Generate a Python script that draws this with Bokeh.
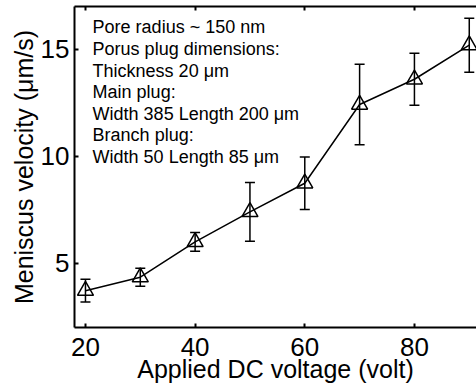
from bokeh.plotting import figure
from bokeh.models import Range1d, LinearAxis, FixedTicker, Whisker, TeeHead, ColumnDataSource, Label
from bokeh.embed import file_html
from bokeh.resources import INLINE

# Data
voltage = [20, 30, 40, 50, 60, 70, 80, 90]
velocity = [3.72, 4.35, 6.00, 7.40, 8.74, 12.42, 13.60, 15.19]
error = [0.53, 0.42, 0.44, 1.37, 1.23, 1.88, 1.21, 1.26]
x_ticks = [20, 40, 60, 80]
y_ticks = [5, 10, 15]
note_lines = [
    "Pore radius ~ 150 nm",
    "Porus plug dimensions:",
    "Thickness 20 \u03bcm",
    "Main plug:",
    "Width 385 Length 200 \u03bcm",
    "Branch plug:",
    "Width 50 Length 85 \u03bcm",
]
x_label = "Applied DC voltage (volt)"
y_label = "Meniscus velocity (\u03bcm/s)"

FONT = "Liberation Sans"

src = ColumnDataSource(dict(
    x=voltage,
    y=velocity,
    lower=[v - e for v, e in zip(velocity, error)],
    upper=[v + e for v, e in zip(velocity, error)],
))

p = figure(width=476, height=385,
           x_range=Range1d(18, 91.32), y_range=Range1d(2.0, 17.0),
           output_backend="svg", toolbar_location=None)
p.min_border_left = 74
p.min_border_right = 0
p.min_border_top = 6
p.min_border_bottom = 58
p.outline_line_color = None
p.grid.visible = False
p.background_fill_color = "white"
p.border_fill_color = "white"

bottom_axis = p.below[0]
left_axis = p.left[0]
top_axis = LinearAxis()
p.add_layout(top_axis, "above")

for ax in (bottom_axis, left_axis, top_axis):
    ax.axis_line_width = 2
    ax.axis_line_color = "black"
    ax.major_tick_in = 4
    ax.major_tick_out = 0
    ax.major_tick_line_width = 2
    ax.major_tick_line_color = "black"
    ax.minor_tick_in = 0
    ax.minor_tick_out = 0
    ax.major_label_text_font = FONT
    ax.major_label_text_font_size = "26px"
    ax.major_label_text_color = "black"
    ax.axis_label_text_font = FONT
    ax.axis_label_text_font_size = "25px"
    ax.axis_label_text_font_style = "normal"
    ax.axis_label_text_color = "black"

bottom_axis.ticker = FixedTicker(ticks=x_ticks)
top_axis.ticker = FixedTicker(ticks=x_ticks)
left_axis.ticker = FixedTicker(ticks=y_ticks)

top_axis.major_label_overrides = {t: "" for t in x_ticks}
top_axis.major_label_text_font_size = "1px"
top_axis.major_label_standoff = 0

bottom_axis.axis_label = x_label
bottom_axis.major_label_standoff = 10
bottom_axis.axis_label_standoff = -4
left_axis.axis_label = y_label
left_axis.axis_label_standoff = 0

p.line("x", "y", source=src, line_color="black", line_width=1.5)
p.add_layout(Whisker(base="x", lower="lower", upper="upper", source=src,
                     line_color="black", line_width=1.5,
                     upper_head=TeeHead(size=10, line_width=1.5, line_color="black"),
                     lower_head=TeeHead(size=10, line_width=1.5, line_color="black")))
p.scatter("x", "y", source=src, marker="triangle", size=16,
          fill_alpha=0, line_color="black", line_width=1.5)

p.add_layout(Label(x=21.3, y=16.49, text="\n".join(note_lines),
                   text_baseline="top", text_align="left",
                   text_font=FONT, text_font_size="18px",
                   text_line_height=1.08, text_color="black"))

open("out.html", "w").write(file_html(p, INLINE))
